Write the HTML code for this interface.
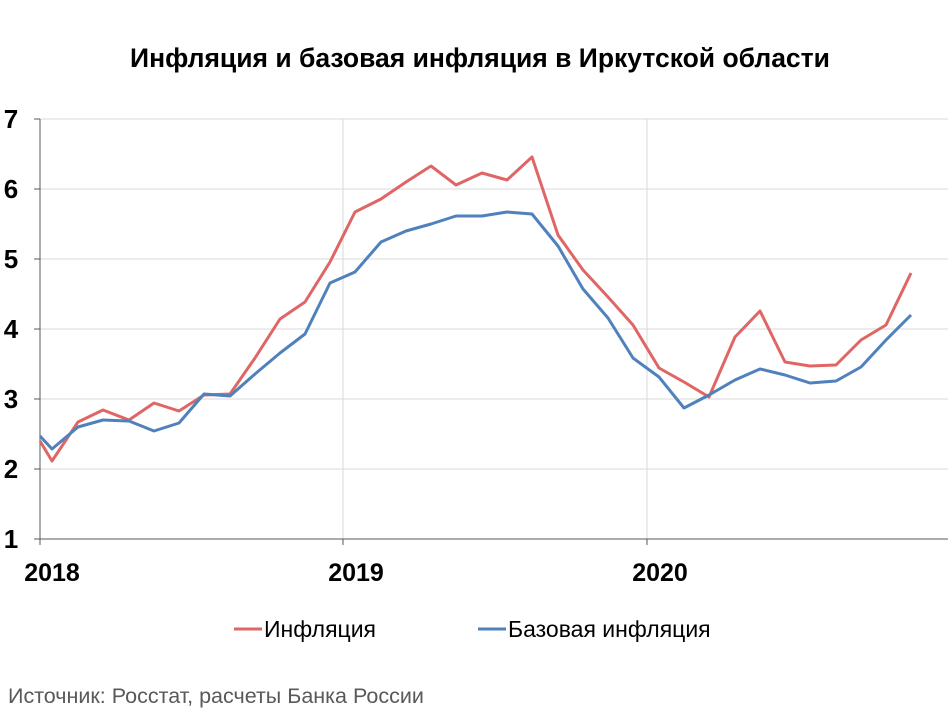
<!DOCTYPE html>
<html><head><meta charset="utf-8"><style>
body{margin:0;background:#fff;width:950px;height:712px;overflow:hidden;font-family:"Liberation Sans",sans-serif}
</style></head><body>
<svg width="950" height="712" xmlns="http://www.w3.org/2000/svg" font-family="Liberation Sans, sans-serif">
<text x="480" y="67" text-anchor="middle" font-size="26.5" font-weight="bold" fill="#000">Инфляция и базовая инфляция в Иркутской области</text>
<g stroke="#d9d9d9" stroke-width="1">
<line x1="40" y1="119" x2="948" y2="119"/><line x1="40" y1="189" x2="948" y2="189"/>
<line x1="40" y1="259" x2="948" y2="259"/><line x1="40" y1="329" x2="948" y2="329"/>
<line x1="40" y1="399" x2="948" y2="399"/><line x1="40" y1="469" x2="948" y2="469"/>
<line x1="343" y1="119" x2="343" y2="539"/><line x1="647" y1="119" x2="647" y2="539"/>
</g>
<g stroke="#595959" stroke-width="1">
<line x1="40" y1="119" x2="40" y2="545"/><line x1="40" y1="539" x2="948" y2="539"/>
<line x1="34" y1="119" x2="40" y2="119"/><line x1="34" y1="189" x2="40" y2="189"/><line x1="34" y1="259" x2="40" y2="259"/><line x1="34" y1="329" x2="40" y2="329"/><line x1="34" y1="399" x2="40" y2="399"/><line x1="34" y1="469" x2="40" y2="469"/><line x1="34" y1="539" x2="40" y2="539"/>
<line x1="343" y1="539" x2="343" y2="545"/><line x1="647" y1="539" x2="647" y2="545"/>
</g>
<g font-size="26" font-weight="bold" fill="#000" text-anchor="middle">
<text x="11" y="128">7</text><text x="11" y="198">6</text><text x="11" y="268">5</text><text x="11" y="338">4</text><text x="11" y="408">3</text><text x="11" y="478">2</text><text x="11" y="548">1</text>
</g>
<g font-size="25" font-weight="bold" fill="#000" text-anchor="middle">
<text x="52" y="581">2018</text><text x="356" y="581">2019</text><text x="660" y="581">2020</text>
</g>
<polyline fill="none" stroke="#e06666" stroke-width="3" stroke-linejoin="round" points="40,441 52,461 78,422 103,410 129,420 154,403 179,411 204,395 230,394 255,358 280,319 305,302 330,262 355,212 381,199 406,182 431,166 456,185 482,173 507,180 532,157 558,235 583,270 608,297 633,325 659,368 684,382 709,397 735,337 760,311 785,362 810,366 836,365 861,340 886,325 911,273"/>
<polyline fill="none" stroke="#4f81bd" stroke-width="3" stroke-linejoin="round" points="40,436 52,449 78,427 103,420 129,421 154,431 179,423 204,394 230,396 255,374 280,353 305,334 330,283 355,272 381,242 406,231 431,224 456,216 482,216 507,212 532,214 558,246 583,289 608,318 633,358 659,377 684,408 709,395 735,380 760,369 785,375 810,383 836,381 861,367 886,340 911,315"/>
<line x1="234" y1="629" x2="262" y2="629" stroke="#e06666" stroke-width="3"/>
<text x="264" y="637" font-size="23" fill="#000">Инфляция</text>
<line x1="478" y1="629" x2="506" y2="629" stroke="#4f81bd" stroke-width="3"/>
<text x="508" y="637" font-size="23" fill="#000">Базовая инфляция</text>
<text x="8" y="703" font-size="21.5" fill="#595959">Источник: Росстат, расчеты Банка России</text>
</svg>
</body></html>
